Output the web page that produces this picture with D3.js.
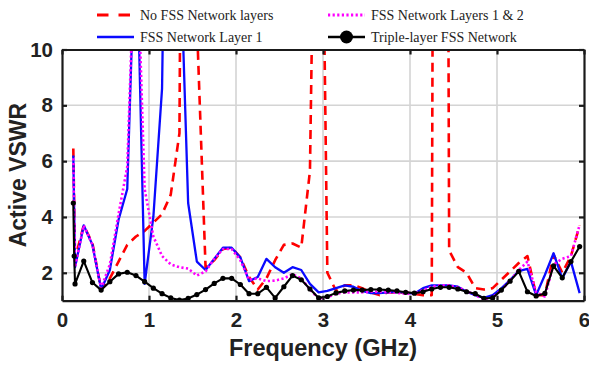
<!DOCTYPE html>
<html>
<head>
<meta charset="utf-8">
<script src="https://cdn.jsdelivr.net/npm/d3@7"></script>
<style>
  html, body { margin: 0; padding: 0; background: #fff; }
  svg { display: block; }
</style>
</head>
<body>
<svg id="chart" width="589" height="365"></svg>
<script>
// Frequency samples (GHz) shared by every series
const freqs = [0.13, 0.14, 0.15,
  0.25, 0.35, 0.45, 0.55, 0.65, 0.75, 0.85, 0.95,
  1.05, 1.15, 1.25, 1.35, 1.45, 1.55, 1.65, 1.75, 1.85, 1.95,
  2.05, 2.15, 2.25, 2.35, 2.45, 2.55, 2.65, 2.75, 2.85, 2.95,
  3.05, 3.15, 3.25, 3.35, 3.45, 3.55, 3.65, 3.75, 3.85, 3.95,
  4.05, 4.15, 4.25, 4.35, 4.45, 4.55, 4.65, 4.75, 4.85, 4.95,
  5.05, 5.15, 5.25, 5.35, 5.45, 5.55, 5.65, 5.75, 5.85, 5.95];

// Active VSWR, no FSS layers
const vswrNoFss = [6.45, 4.4, 2.5,
  3.7, 3.05, 1.4, 1.8, 2.4, 3.0, 3.3, 3.5,
  3.8, 4.1, 4.8, 7.0, 60, 11, 2.2, 2.45, 2.85, 2.9,
  2.55, 1.85, 1.4, 1.8, 2.45, 3.0, 3.05, 2.9, 5.65, 27,
  2.0, 1.35, 1.55, 1.55, 1.45, 1.3, 1.2, 1.3, 1.3, 1.3,
  1.25, 1.2, 1.2, 100, 2.8, 2.2, 2.0, 1.45, 1.4, 1.45,
  1.75, 2.05, 2.35, 2.6, 1.2, 1.2, 2.65, 2.0, 2.6, 3.7];

// Active VSWR, FSS layer 1
const vswrLayer1 = [6.2, 4.2, 2.2,
  3.7, 3.0, 1.4, 2.1, 3.9, 5.0, 15, 1.6,
  4.0, 8.6, 30, 14.5, 4.5, 2.4, 2.1, 2.5, 2.9, 2.9,
  2.55, 1.7, 1.85, 2.5, 2.2, 2.0, 2.2, 2.1, 1.6, 1.3,
  1.35, 1.45, 1.55, 1.5, 1.35, 1.27, 1.27, 1.3, 1.32, 1.29,
  1.25, 1.45, 1.55, 1.55, 1.55, 1.5, 1.32, 1.2, 1.1, 1.2,
  1.44, 1.74, 2.06, 2.14, 1.2, 1.92, 2.7, 1.8, 2.4, 1.27];

// Active VSWR, FSS layers 1 & 2
const vswrLayers12 = [6.1, 4.1, 2.2,
  3.7, 3.0, 1.45, 2.3, 4.1, 5.8, 15, 5.0,
  3.3, 2.6, 2.3, 2.2, 2.15, 1.9, 2.05, 2.5, 2.85, 2.85,
  2.45, 1.75, 1.8, 1.7, 1.72, 1.8, 1.95, 1.8, 1.4, 1.08,
  1.12, 1.25, 1.3, 1.3, 1.3, 1.32, 1.32, 1.3, 1.28, 1.25,
  1.25, 1.38, 1.5, 1.55, 1.55, 1.48, 1.35, 1.2, 1.05, 1.12,
  1.38, 1.72, 2.1, 2.4, 1.3, 1.15, 2.3, 2.5, 2.6, 3.72];

// Active VSWR, triple-layer FSS
const vswrTriple = [4.5, 2.6, 1.6,
  2.42, 1.65, 1.38, 1.68, 1.96, 2.02, 1.9, 1.68,
  1.45, 1.25, 1.1, 1.02, 1.08, 1.22, 1.4, 1.62, 1.8, 1.8,
  1.58, 1.25, 1.25, 1.48, 1.1, 1.5, 1.9, 1.75, 1.42, 1.1,
  1.15, 1.28, 1.35, 1.38, 1.38, 1.4, 1.4, 1.38, 1.35, 1.3,
  1.27, 1.32, 1.42, 1.48, 1.48, 1.42, 1.32, 1.25, 1.08, 1.1,
  1.38, 1.7, 2.05, 1.32, 1.17, 1.26, 2.25, 1.82, 2.4, 2.94];

const xTicks = [0, 1, 2, 3, 4, 5, 6];
const yTicks = [2, 4, 6, 8, 10];

const seriesNames = ["No FSS Network layers", "FSS Network Layer 1",
  "FSS Network Layers 1 & 2", "Triple-layer FSS Network"];

const series = [
  { name: seriesNames[0], values: vswrNoFss, color: "#ff0000", width: 2.6, dash: "9,6", legendDash: "11.5,10" },
  { name: seriesNames[1], values: vswrLayer1, color: "#0a0aff", width: 2.3, dash: null },
  { name: seriesNames[2], values: vswrLayers12, color: "#ff00ff", width: 2.6, dash: "2.2,2.4" },
  { name: seriesNames[3], values: vswrTriple, color: "#000000", width: 2.1, dash: null, markers: true }
];

const svg = d3.select("#chart");
const margin = { left: 62, right: 5, top: 49.5, bottom: 64.3 };
const W = 589, H = 365;
const x = d3.scaleLinear().domain([0, 6]).range([margin.left, W - margin.right]);
const y = d3.scaleLinear().domain([1, 10]).range([H - margin.bottom, margin.top]);

const x0 = x.range()[0], x1 = x.range()[1];
const y0 = y.range()[0], y1 = y.range()[1];

svg.append("defs").append("clipPath").attr("id", "plotClip")
  .append("rect").attr("x", x0).attr("y", y1).attr("width", x1 - x0).attr("height", y0 - y1);

// grid
const grid = svg.append("g");
grid.selectAll("line.gx").data(xTicks.filter(d => d > 0 && d < 6)).join("line")
  .attr("x1", d => x(d)).attr("x2", d => x(d)).attr("y1", y0).attr("y2", y1)
  .attr("stroke", "#d4d4d4").attr("stroke-width", 1.6);
grid.selectAll("line.gy").data(yTicks.filter(d => d < 10)).join("line")
  .attr("y1", d => y(d)).attr("y2", d => y(d)).attr("x1", x0).attr("x2", x1)
  .attr("stroke", "#d4d4d4").attr("stroke-width", 1.6);

// curves
const line = d3.line().x((d, i) => x(freqs[i])).y(d => y(d));
const plot = svg.append("g").attr("clip-path", "url(#plotClip)");
series.forEach(s => {
  plot.append("path").datum(s.values)
    .attr("d", line)
    .attr("fill", "none")
    .attr("stroke", s.color)
    .attr("stroke-width", s.width)
    .attr("stroke-linejoin", "round")
    .attr("stroke-dasharray", s.dash);
  if (s.markers) {
    plot.selectAll(null).data(s.values).join("circle")
      .attr("cx", (d, i) => x(freqs[i])).attr("cy", d => y(d))
      .attr("r", 2.6).attr("fill", s.color);
  }
});

// axes with inward ticks on all four sides
const tickFont = "bold 20.5px 'Liberation Sans', Arial, sans-serif";
const axB = svg.append("g").attr("transform", `translate(0,${y0})`)
  .call(d3.axisBottom(x).tickValues(xTicks).tickSizeInner(-5).tickSizeOuter(0).tickPadding(12).tickFormat(d3.format("d")));
const axT = svg.append("g").attr("transform", `translate(0,${y1})`)
  .call(d3.axisTop(x).tickValues(xTicks).tickSizeInner(-5).tickSizeOuter(0).tickFormat(""));
const axL = svg.append("g").attr("transform", `translate(${x0},0)`)
  .call(d3.axisLeft(y).tickValues(yTicks).tickSizeInner(-5).tickSizeOuter(0).tickPadding(9).tickFormat(d3.format("d")));
const axR = svg.append("g").attr("transform", `translate(${x1},0)`)
  .call(d3.axisRight(y).tickValues(yTicks).tickSizeInner(-5).tickSizeOuter(0).tickFormat(""));
[axB, axT, axL, axR].forEach(a => {
  a.select(".domain").attr("stroke", "#1a1a1a").attr("stroke-width", 2.2);
  a.selectAll(".tick line").attr("stroke", "#1a1a1a").attr("stroke-width", 2.2);
  a.selectAll(".tick text").style("font", tickFont).attr("fill", "#222");
});
axB.selectAll(".tick text").attr("dy", "0.71em");

// axis titles
svg.append("text")
  .attr("x", (x0 + x1) / 2).attr("y", 356)
  .attr("text-anchor", "middle")
  .style("font", "bold 23.5px 'Liberation Sans', Arial, sans-serif")
  .attr("fill", "#222")
  .text("Frequency (GHz)");
svg.append("text")
  .attr("transform", `translate(26,${(y0 + y1) / 2}) rotate(-90)`)
  .attr("text-anchor", "middle")
  .style("font", "bold 23px 'Liberation Sans', Arial, sans-serif")
  .attr("fill", "#222")
  .text("Active VSWR");

// legend, two columns above the plot
const legendPos = [
  { lx: 97, ty: 15 }, { lx: 97, ty: 37 },
  { lx: 328, ty: 15 }, { lx: 328, ty: 37 }
];
const legend = svg.append("g");
series.forEach((s, i) => {
  const p = legendPos[i];
  const g = legend.append("g");
  g.append("line")
    .attr("x1", p.lx).attr("x2", p.lx + 37).attr("y1", p.ty).attr("y2", p.ty)
    .attr("stroke", s.color).attr("stroke-width", s.width + 0.3)
    .attr("stroke-dasharray", s.legendDash || s.dash);
  if (s.markers) {
    g.append("circle").attr("cx", p.lx + 18.5).attr("cy", p.ty).attr("r", 6.5).attr("fill", s.color);
  }
  g.append("text")
    .attr("x", p.lx + 43).attr("y", p.ty + 5)
    .style("font", "14px 'Liberation Serif', 'Times New Roman', serif")
    .attr("fill", "#222")
    .text(s.name);
});
</script>
</body>
</html>
